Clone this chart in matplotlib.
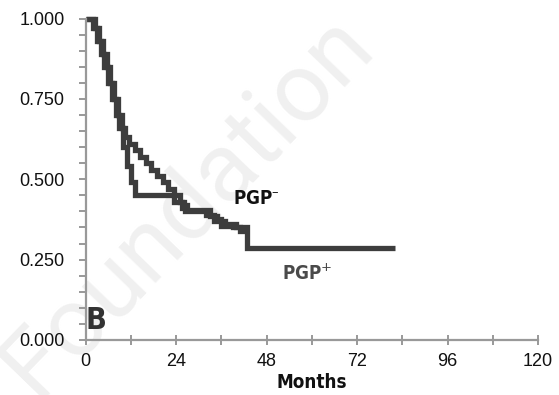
import matplotlib
matplotlib.use("Agg")
import matplotlib.pyplot as plt
from matplotlib import font_manager
from matplotlib.ticker import MultipleLocator, FixedLocator

# ---- data ----
months_pos = [0, 2.0, 3.0, 4.0, 5.0, 6.0, 7.0, 8.0, 9.0, 10.0, 11.0, 12.0, 13.2,
              23.5, 25.5, 26.5, 32.0, 34.0, 37.0, 40.0, 42.7, 82.0]
surv_pos = [1.0, 0.97, 0.93, 0.89, 0.85, 0.80, 0.75, 0.70, 0.66, 0.60, 0.54, 0.49, 0.45,
            0.43, 0.41, 0.40, 0.39, 0.37, 0.36, 0.35, 0.286, 0.286]

months_neg = [0, 2.6, 3.6, 4.6, 5.6, 6.6, 7.6, 8.6, 9.6, 10.5, 11.5, 13.0, 14.5, 16.0,
              17.5, 19.0, 20.5, 22.0, 23.5, 25.0, 26.0, 27.0, 33.0, 35.0, 36.0, 39.0,
              41.0, 43.0]
surv_neg = [1.0, 0.97, 0.93, 0.89, 0.85, 0.80, 0.75, 0.70, 0.66, 0.63, 0.61, 0.59, 0.57,
            0.55, 0.53, 0.51, 0.49, 0.47, 0.45, 0.43, 0.42, 0.405, 0.385, 0.375, 0.355,
            0.35, 0.34, 0.34]

x_ticks = [0, 24, 48, 72, 96, 120]
y_ticks = [0.0, 0.25, 0.5, 0.75, 1.0]
y_labels = ["0.000", "0.250", "0.500", "0.750", "1.000"]

# ---- fonts: prefer a condensed face if one is installed ----
_fonts = font_manager.fontManager.ttflist
_names = {f.name for f in _fonts}
cond_kw = {}
if "Liberation Sans Narrow" in _names:
    cond_kw = dict(family=["Liberation Sans Narrow", "DejaVu Sans"])
elif any(f.name == "DejaVu Sans" and str(f.stretch) in ("condensed", "semi-condensed", "600", "700", "500")
         for f in _fonts):
    cond_kw = dict(family=["DejaVu Sans"], fontstretch="condensed")
else:
    cond_kw = dict(family=["Liberation Sans", "DejaVu Sans"])
reg = ["Liberation Sans", "DejaVu Sans"]

# ---- figure ----
W, H = 559, 395
fig = plt.figure(figsize=(W / 100, H / 100), dpi=100)

# watermark (behind everything)
fig.text(0.335, 0.48, "Foundation", fontsize=70, color="#f0f0f0", rotation=46,
         ha="center", va="center", family=["Roboto", "DejaVu Sans"],
         fontweight="normal", zorder=-5)

ax = fig.add_axes([85.5 / W, (H - 340) / H, (538 - 85.5) / W, (340 - 18.5) / H])
ax.set_zorder(1)
ax.patch.set_alpha(0)

line_kw = dict(color="#3d3d3d", lw=3.8, drawstyle="steps-post", clip_on=False,
               solid_joinstyle="miter", solid_capstyle="butt")
ax.plot(months_pos, surv_pos, **line_kw)
ax.plot(months_neg, surv_neg, **line_kw)

ax.set_xlim(0, 120)
ax.set_ylim(0, 1.0)

for s in ["top", "right"]:
    ax.spines[s].set_visible(False)
for s in ["left", "bottom"]:
    ax.spines[s].set_color("#999999")
    ax.spines[s].set_linewidth(1.6)

ax.xaxis.set_major_locator(FixedLocator(x_ticks))
ax.xaxis.set_minor_locator(MultipleLocator(12))
ax.yaxis.set_major_locator(FixedLocator(y_ticks))
ax.yaxis.set_minor_locator(MultipleLocator(0.05))
ax.set_yticklabels(y_labels)

ax.tick_params(axis="x", which="both", direction="inout", length=7, width=1.4,
               color="#999999", pad=6)
ax.tick_params(axis="y", which="both", direction="out", length=5, width=1.4,
               color="#999999", pad=10)
for lab in ax.get_xticklabels() + ax.get_yticklabels():
    lab.set_family(reg)
    lab.set_fontsize(13)
    lab.set_color("#111111")

ax.set_xlabel("Months", fontsize=13.5, fontweight="bold", color="#111111",
              labelpad=2, **cond_kw)

ax.text(39.0, 0.41, "PGP$^{\u2013}$", fontsize=13.5, fontweight="bold",
        color="#111111", ha="left", va="bottom", **cond_kw)
ax.text(52.0, 0.175, "PGP$^{+}$", fontsize=13.5, fontweight="bold",
        color="#4a4a4a", ha="left", va="bottom", **cond_kw)
ax.text(0.0, 0.015, "B", fontsize=22, fontweight="bold",
        color="#333333", ha="left", va="bottom", **cond_kw)

fig.savefig("out.png", dpi=100)
